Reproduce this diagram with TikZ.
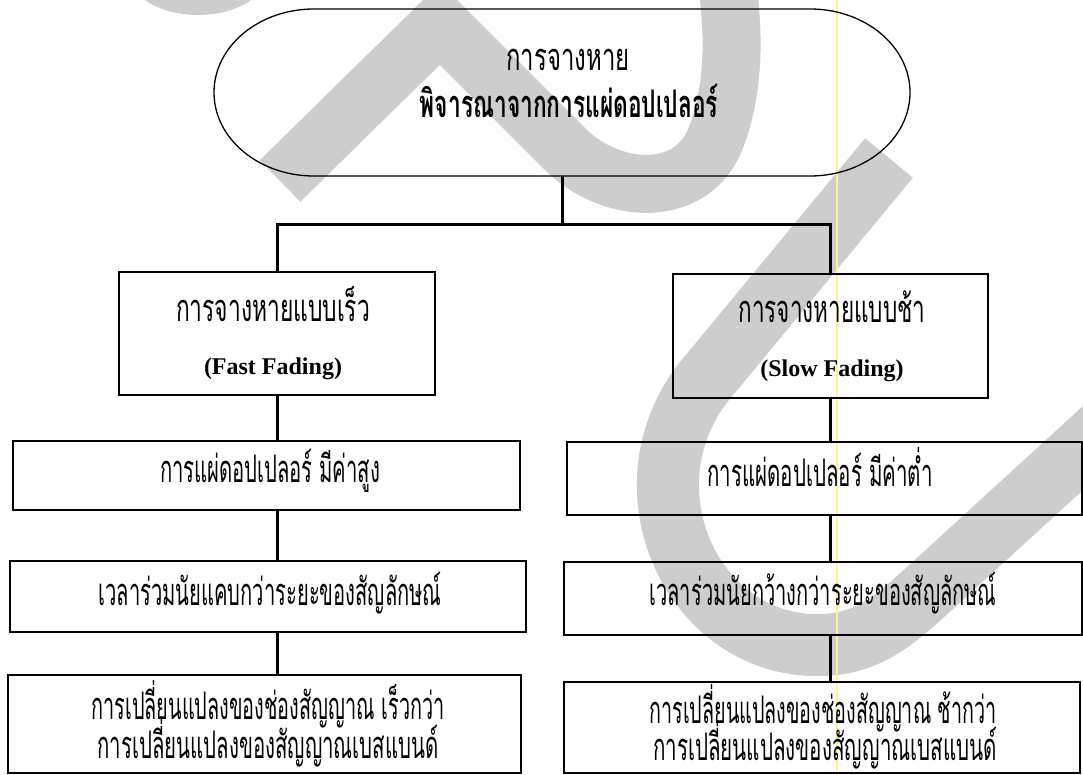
\documentclass[tikz,border=0pt]{standalone}
\usepackage{fontspec}
\usepackage{graphicx}
\setmainfont{Liberation Serif}
\newfontfamily\thai[Script=Thai]{Loma}
\newcommand\fitw[2]{\resizebox{#1pt}{\height}{#2}}
\definecolor{wm}{RGB}{205,205,205}
\definecolor{scanline}{RGB}{250,245,140}
\begin{document}
\begin{tikzpicture}[x=1pt,y=-1pt,
  box/.style={draw, line width=1.3pt, inner sep=0pt},
  conn/.style={line width=3pt},
  th/.style={font=\thai\fontsize{38}{44}\selectfont, inner sep=0pt, anchor=base},
  thb/.style={font=\thai\bfseries\fontsize{38}{44}\selectfont, inner sep=0pt, anchor=base},
  en/.style={font=\bfseries\fontsize{24}{28}\selectfont, inner sep=0pt, anchor=base},
  wmband/.style={draw=wm, line cap=butt, line join=miter}
]
\useasboundingbox (0,0) rectangle (1083,775);
\fill[white] (0,0) rectangle (1083,775);
% watermark
\fill[wm] (198,-25) ellipse [x radius=68, y radius=40];
\draw[wmband, line width=58pt] (280,181) -- (440,24) -- (565,149)
  .. controls (610,194) and (690,200) .. (715,140)
  .. controls (735,90) and (735,30) .. (725,-30);
\draw[wmband, line width=62pt] (889,158) -- (712,372)
  .. controls (615,480) and (690,648) .. (820,645)
  .. controls (870,645) and (900,615) .. (930,588) -- (1130,405);
\draw[scanline, line width=1.5pt] (837,0) -- (837,775);

% top capsule
\node[inner sep=0pt, minimum width=696pt, minimum height=167pt] (cap) at (562,92.5) {};
\draw[line width=1.3pt] (314,9) -- (810,9) arc[start angle=-90, end angle=90, x radius=100, y radius=83.5]
  -- (314,176) arc[start angle=90, end angle=270, x radius=100, y radius=83.5] -- cycle;
\node[th] (t1) at (568,71) {\fitw{123}{การจางหาย}};
\node[thb] (t2) at (569,118) {\fitw{298}{พิจารณาจากการแผ่ดอปเปลอร์}};

% boxes
\node[box, minimum width=316pt, minimum height=123pt] (lb1) at (277,333.5) {};
\node[box, minimum width=315pt, minimum height=124pt] (rb1) at (830.5,336) {};
\node[box, minimum width=507pt, minimum height=69pt] (lb2) at (266.5,475.5) {};
\node[box, minimum width=515pt, minimum height=73pt] (rb2) at (824.5,478.5) {};
\node[box, minimum width=516pt, minimum height=71pt] (lb3) at (268,596.5) {};
\node[box, minimum width=518pt, minimum height=73pt] (rb3) at (823,598.5) {};
\node[box, minimum width=513pt, minimum height=98pt] (lb4) at (264.5,724) {};
\node[box, minimum width=516pt, minimum height=91pt] (rb4) at (822,727.5) {};

% texts
\node[th] at (273,321) {\fitw{194}{การจางหายแบบเร็ว}};
\node[en] at (273,374) {(Fast Fading)};
\node[th] at (832,323) {\fitw{187}{การจางหายแบบช้า}};
\node[en] at (832,376) {(Slow Fading)};
\node[th] at (270,482) {\fitw{220}{การแผ่ดอปเปลอร์ มีค่าสูง}};
\node[th] at (820,486) {\fitw{225}{การแผ่ดอปเปลอร์ มีค่าต่ำ}};
\node[th] at (270,605) {\fitw{343}{เวลาร่วมนัยแคบกว่าระยะของสัญลักษณ์}};
\node[th] at (823,605) {\fitw{347}{เวลาร่วมนัยกว้างกว่าระยะของสัญลักษณ์}};
\node[th] at (268,719) {\fitw{353}{การเปลี่ยนแปลงของช่องสัญญาณ เร็วกว่า}};
\node[th] at (268,758) {\fitw{341}{การเปลี่ยนแปลงของสัญญาณเบสแบนด์}};
\node[th] at (823,723) {\fitw{347}{การเปลี่ยนแปลงของช่องสัญญาณ ช้ากว่า}};
\node[th] at (825,760) {\fitw{344}{การเปลี่ยนแปลงของสัญญาณเบสแบนด์}};

% connectors
\coordinate (j) at (562,225);
\draw[conn] (cap.south) -- (j);
\draw[conn] (lb1.north) -- (lb1.north |- j) -- (rb1.north |- j) -- (rb1.north);
\draw[conn] (lb1.south) -- (lb1.south |- lb2.north);
\draw[conn] (lb1.south |- lb2.south) -- (lb1.south |- lb3.north);
\draw[conn] (lb1.south |- lb3.south) -- (lb1.south |- lb4.north);
\draw[conn] (rb1.south) -- (rb1.south |- rb2.north);
\draw[conn] (rb1.south |- rb2.south) -- (rb1.south |- rb3.north);
\draw[conn] (rb1.south |- rb3.south) -- (rb1.south |- rb4.north);
\end{tikzpicture}
\end{document}
